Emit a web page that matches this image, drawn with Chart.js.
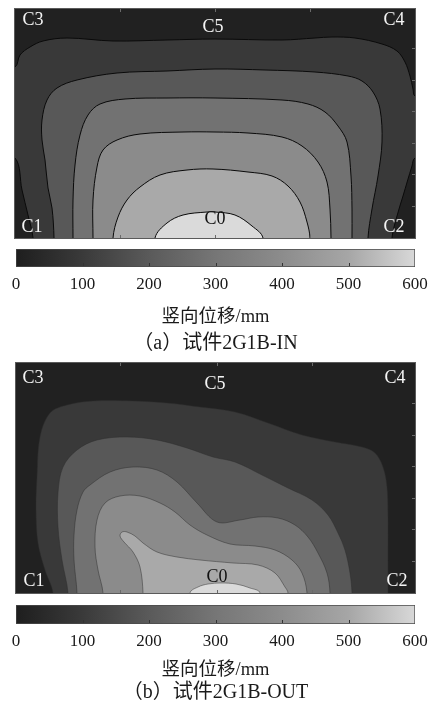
<!DOCTYPE html>
<html>
<head>
<meta charset="utf-8">
<script src="https://cdn.jsdelivr.net/npm/chart.js@4.4.1/dist/chart.umd.min.js"></script>
<style>
  body { margin: 0; background: #fff; width: 431px; height: 710px; overflow: hidden; position: relative; }
  .plot { position: absolute; border: 1px solid #5a5a5a; background: #222; }
  .plot canvas { display: block; }
  .cb { position: absolute; left: 0; }
</style>
</head>
<body>
<div class="plot" style="left:14px;top:8px;width:400px;height:229px"><canvas id="plotA" width="400" height="229"></canvas></div>
<canvas class="cb" id="barA" width="431" height="115" style="top:245px"></canvas>
<div class="plot" style="left:15px;top:362px;width:399px;height:230px"><canvas id="plotB" width="399" height="230"></canvas></div>
<canvas class="cb" id="barB" width="431" height="108" style="top:601px"></canvas>

<script>
// plate size of the two contour plots (grid units)
const aWidth = 400, aHeight = 229;
const bWidth = 399, bHeight = 230;

// gray level of each contour band, outermost first
const bandGrays = ['#212121', '#393939', '#585858', '#727272', '#8b8b8b', '#a9a9a9', '#dadada'];

// (a) 2G1B-IN contour lines, [x, y]
const a_line1Top = [[0,171],[5,183],[15,191],[28,197],[52,200],[98,197],[152,198],[200,199],[267,198],[300,200],[317,201],[340,200],[367,194],[382,187],[390,176],[395,162],[398,149],[400,142]];
const a_line1Right = [[400,80],[397,72],[388,42],[382,22],[377,0]];
const a_line1Left = [[18,0],[13,23],[7,48],[0,80]];
const a_line2 = [[39,0],[37,30],[33,50],[30,78],[27,98],[27,118],[32,138],[42,150],[62,158],[102,165],[152,167],[200,169],[250,168],[300,166],[333,162],[347,157],[358,146],[365,129],[367,96],[363,62],[357,29],[353,0]];
const a_line3 = [[58,0],[58,38],[60,73],[65,103],[73,123],[85,134],[110,139],[152,140],[200,140],[267,138],[293,134],[310,126],[323,112],[332,96],[336,62],[337,29],[337,0]];
const a_line4 = [[78,0],[78,38],[82,71],[88,88],[102,98],[125,104],[168,106],[200,106],[233,105],[267,101],[287,92],[303,76],[312,56],[315,29],[316,0]];
const a_line5 = [[98,0],[103,21],[112,38],[125,51],[145,63],[172,68],[198,69],[233,66],[257,62],[273,52],[285,36],[292,16],[295,0]];
const a_line6 = [[140,0],[152,15],[168,23],[192,26],[200,26],[220,23],[237,12],[248,0]];

// (b) 2G1B-OUT contour lines, [x, y]
const b_line1 = [[37,0],[29,23],[22,50],[20,83],[21,116],[24,156],[34,180],[51,188],[77,192],[117,192],[151,190],[184,186],[219,181],[252,170],[286,158],[319,151],[346,146],[359,140],[367,126],[371,106],[372,76],[372,43],[372,0]];
const b_line2 = [[52,0],[46,33],[42,66],[42,100],[47,126],[61,143],[81,153],[111,156],[141,153],[171,145],[197,136],[219,131],[246,118],[272,105],[296,93],[312,78],[322,60],[329,43],[334,20],[336,0]];
const b_line3 = [[61,0],[58,33],[58,58],[61,83],[67,101],[74,108],[94,121],[117,126],[141,123],[161,111],[181,90],[201,71],[224,73],[242,76],[262,75],[279,68],[292,56],[302,40],[311,20],[314,0]];
const b_line4 = [[87,0],[82,23],[79,46],[81,73],[89,90],[104,97],[124,97],[144,90],[159,81],[174,68],[191,58],[214,49],[239,47],[259,43],[276,33],[286,20],[291,0]];
const b_line5 = [[127,0],[124,26],[117,41],[108,51],[104,57],[106,61],[111,61],[119,57],[127,50],[141,41],[161,36],[184,33],[217,30],[242,28],[259,20],[269,6],[272,0]];
const b_line6 = [[174,0],[182,6],[192,9],[205,10],[220,9],[234,5],[244,0]];

// point labels
const labelText = ['C3', 'C5', 'C4', 'C1', 'C2', 'C0'];
const a_labelX = [18, 198, 379, 17, 379, 200];
const a_labelY = [218, 211, 218, 11, 11, 19];
const b_labelX = [17, 199, 379, 18, 381, 201];
const b_labelY = [215, 209, 215, 12, 12, 16];

// frame ticks
const a_frameTicksX = [105, 200, 295];
const a_frameTicksY = [32, 64, 95, 127, 158, 190];
const b_frameTicksX = [104, 201, 296];
const b_frameTicksY = [32, 64, 95, 127, 158, 190];

// colour bar
const cbTickValues = [0, 100, 200, 300, 400, 500, 600];
const cbStopValues = [0, 100, 200, 300, 400, 500, 600];
const cbStopGray = [30, 58, 90, 118, 140, 166, 216];
const cbTitle = '竖向位移/mm';
const captionA = '（a）试件2G1B-IN';
const captionB = '（b）试件2G1B-OUT';

const serif = '"Liberation Serif", "Noto Sans CJK SC", serif';

function below(line) {
  const first = line[0], last = line[line.length - 1];
  return [[first[0], -40], ...line, [last[0], -40]];
}

function wholeArea(w, h) {
  return [[-20, -20], [w + 20, -20], [w + 20, h + 20], [-20, h + 20]];
}

function labelPlugin(xs, ys) {
  return {
    id: 'pointLabels',
    afterDatasetsDraw(chart) {
      const {ctx, scales} = chart;
      ctx.save();
      ctx.font = '18px ' + serif;
      ctx.textAlign = 'center';
      ctx.textBaseline = 'middle';
      labelText.forEach((t, i) => {
        ctx.fillStyle = t === 'C0' ? '#111' : '#f4f4f4';
        ctx.fillText(t, scales.x.getPixelForValue(xs[i]), scales.y.getPixelForValue(ys[i]));
      });
      ctx.restore();
    }
  };
}

function frameTicks(tx, ty) {
  return {
    id: 'frameTicks',
    afterDatasetsDraw(chart) {
      const {ctx, scales, chartArea} = chart;
      ctx.save();
      ctx.strokeStyle = '#6a6a6a';
      ctx.lineWidth = 1;
      ctx.beginPath();
      tx.forEach(v => {
        const px = Math.round(scales.x.getPixelForValue(v)) + 0.5;
        ctx.moveTo(px, chartArea.top); ctx.lineTo(px, chartArea.top + 3);
        ctx.moveTo(px, chartArea.bottom); ctx.lineTo(px, chartArea.bottom - 3);
      });
      ty.forEach(v => {
        const py = Math.round(scales.y.getPixelForValue(v)) + 0.5;
        ctx.moveTo(chartArea.right, py); ctx.lineTo(chartArea.right - 3, py);
      });
      ctx.stroke();
      ctx.restore();
    }
  };
}

function contourChart(id, bands, w, h, lineColor, lineWidth, labelsX, labelsY, tx, ty) {
  const datasets = bands.map((poly, k) => ({
    data: poly.map(p => ({x: p[0], y: p[1]})),
    backgroundColor: bandGrays[k],
    borderColor: k === 0 ? 'rgba(0,0,0,0)' : lineColor,
    borderWidth: k === 0 ? 0 : lineWidth,
    fill: 'shape',
    tension: 0.35,
    pointRadius: 0,
    order: 20 - k
  }));
  new Chart(document.getElementById(id), {
    type: 'line',
    data: {datasets},
    options: {
      responsive: false,
      animation: false,
      events: [],
      layout: {padding: 0},
      elements: {line: {capBezierPoints: false}},
      scales: {
        x: {type: 'linear', min: 0, max: w, display: false},
        y: {type: 'linear', min: 0, max: h, display: false}
      },
      plugins: {legend: {display: false}, tooltip: {enabled: false}}
    },
    plugins: [labelPlugin(labelsX, labelsY), frameTicks(tx, ty)]
  });
}

const bandsA = [
  wholeArea(aWidth, aHeight),
  [[-25, 165], ...a_line1Top, [425, 135], [425, 85], ...a_line1Right, [377, -30], [18, -30], ...a_line1Left, [-25, 85]],
  below(a_line2), below(a_line3), below(a_line4), below(a_line5), below(a_line6)
];
const bandsB = [
  wholeArea(bWidth, bHeight),
  below(b_line1), below(b_line2), below(b_line3), below(b_line4), below(b_line5), below(b_line6)
];

contourChart('plotA', bandsA, aWidth, aHeight, '#0a0a0a', 1, a_labelX, a_labelY, a_frameTicksX, a_frameTicksY);
contourChart('plotB', bandsB, bWidth, bHeight, 'rgba(45,45,45,0.6)', 0.8, b_labelX, b_labelY, b_frameTicksX, b_frameTicksY);

function grayGradient(chart) {
  const area = chart.chartArea;
  if (!area) return '#888';
  const g = chart.ctx.createLinearGradient(area.left, 0, area.right, 0);
  const max = cbStopValues[cbStopValues.length - 1];
  cbStopValues.forEach((v, i) => {
    const c = cbStopGray[i];
    g.addColorStop(v / max, 'rgb(' + c + ',' + c + ',' + c + ')');
  });
  return g;
}

const innerTicks = {
  id: 'innerTicks',
  afterDatasetsDraw(chart) {
    const {ctx, scales, chartArea} = chart;
    ctx.save();
    ctx.strokeStyle = '#333';
    ctx.lineWidth = 1;
    ctx.beginPath();
    cbTickValues.slice(1, -1).forEach(v => {
      const px = Math.round(scales.x.getPixelForValue(v)) + 0.5;
      ctx.moveTo(px, chartArea.bottom - 1);
      ctx.lineTo(px, chartArea.bottom - 4);
    });
    ctx.stroke();
    ctx.restore();
  }
};

function colorbar(id, caption, axisHeight, tickPad, capPad) {
  new Chart(document.getElementById(id), {
    type: 'bar',
    data: {
      labels: [''],
      datasets: [{
        data: [[cbTickValues[0], cbTickValues[cbTickValues.length - 1]]],
        backgroundColor: ctx => grayGradient(ctx.chart),
        borderColor: '#4a4a4a',
        borderWidth: 1,
        borderSkipped: false,
        barPercentage: 1,
        categoryPercentage: 1
      }]
    },
    options: {
      indexAxis: 'y',
      responsive: false,
      animation: false,
      events: [],
      layout: {padding: {top: 4, left: 16, right: 16, bottom: 0}},
      scales: {
        x: {
          min: cbTickValues[0],
          max: cbTickValues[cbTickValues.length - 1],
          afterBuildTicks: s => { s.ticks = cbTickValues.map(v => ({value: v})); },
          afterFit: s => { s.height = axisHeight; s.paddingLeft = 0; s.paddingRight = 0; },
          grid: {display: false, drawTicks: false},
          border: {display: false},
          ticks: {padding: tickPad, color: '#1a1a1a', font: {family: serif, size: 17}, maxRotation: 0},
          title: {display: true, text: cbTitle, color: '#1a1a1a', font: {family: serif, size: 18.5}, padding: {top: 0, bottom: 0}}
        },
        y: {display: false}
      },
      plugins: {
        legend: {display: false},
        tooltip: {enabled: false},
        title: {display: true, position: 'bottom', text: caption, color: '#1a1a1a',
                font: {family: serif, size: 20, weight: 'normal'}, padding: {top: capPad, bottom: 4}}
      }
    },
    plugins: [innerTicks]
  });
}

colorbar('barA', captionA, 61, 7, 4);
colorbar('barB', captionB, 57, 7, 0);
</script>
</body>
</html>
